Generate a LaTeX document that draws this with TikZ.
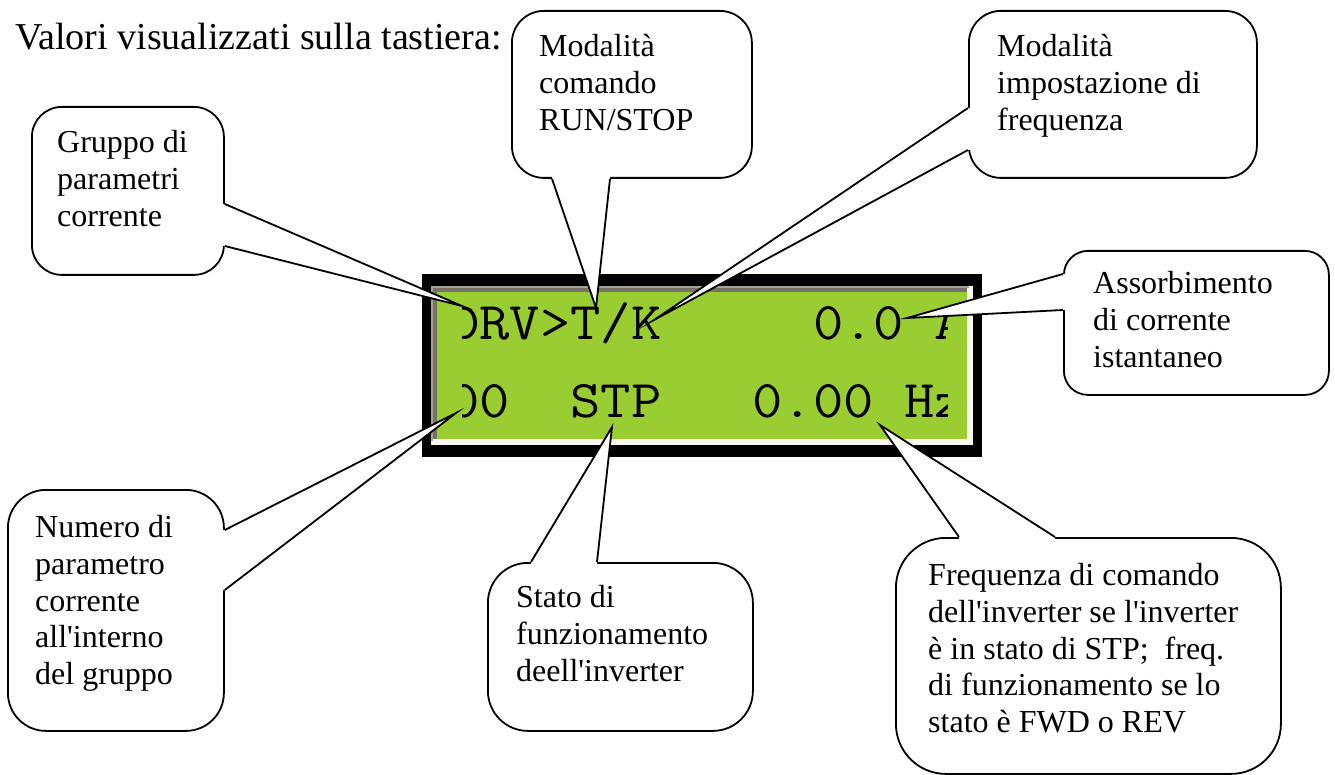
\documentclass[tikz,border=0pt]{standalone}
\usepackage{graphicx}
\usepackage{fontspec}
\setmainfont{Liberation Serif}
\usetikzlibrary{calc}
\definecolor{lcdgreen}{RGB}{154,205,50}
\definecolor{bevellight}{RGB}{168,162,148}
\definecolor{beveldark}{RGB}{120,114,102}
\definecolor{bevelwhite}{RGB}{250,248,240}
\begin{document}
\begin{tikzpicture}[x=1pt,y=-1pt,
  box/.style={draw=black, fill=white, line width=1.8pt, rectangle, inner sep=0pt, anchor=north west},
  calltext/.style={anchor=north west, inner sep=0pt, align=left, font=\fontsize{32}{36.8}\selectfont},
  wedgeline/.style={draw=black, line width=1.8pt, line join=miter, miter limit=30},
  lcdtext/.style={anchor=base west, inner sep=0pt, font=\ttfamily\fontsize{58.9}{58.9}\selectfont}]
\useasboundingbox (0,0) rectangle (1335,775);

% title
\node[anchor=base west, inner sep=0pt, font=\fontsize{38}{44}\selectfont] (title) at (15,50) {Valori visualizzati sulla tastiera:};

% LCD
\fill[black] (422,274) rectangle (982,457);
\fill[bevelwhite] (431,286) rectangle (973,445);
\fill[bevellight] (431,286) rectangle (969,288);
\fill[bevellight] (431,286) rectangle (433,441);
\fill[beveldark] (433,288) rectangle (967,292);
\fill[beveldark] (433,288) rectangle (437,439);
\fill[lcdgreen] (437,292) rectangle (967,439);
\begin{scope}
\clip (462,292) rectangle (947,439);
\node[lcdtext] (row1) at (449,340) {\scalebox{1}[0.9]{DRV>T/K~~~~~0.0~A}};
\node[lcdtext] (row2) at (449,417) {\scalebox{1}[0.9]{00~~STP~~~0.00~Hz}};
\end{scope}

% callout 1
\node[box, minimum width=192pt, minimum height=168pt, rounded corners=30pt] (b1) at (31,106) {};
\node[calltext] (c1) at (57,130) {Gruppo di\\parametri\\corrente};
\coordinate (t1) at (462,306);
\coordinate (b1a) at ($(b1.north east)+(0,98)$);
\coordinate (b1b) at ($(b1.north east)+(0,140)$);
\fill[white] (b1a) -- (t1) -- (b1b) -- ($(b1b)+(-6,0)$) -- ($(b1a)+(-6,0)$) -- cycle;
\draw[wedgeline] (b1a) -- (t1) -- (b1b);

% callout 2
\node[box, minimum width=240pt, minimum height=167pt, rounded corners=32pt] (b2) at (511,10) {};
\node[calltext] (c2) at (539,34) {Modalità\\comando\\RUN/STOP};
\coordinate (t2) at (596,308);
\coordinate (b2a) at ($(b2.south west)+(41,0)$);
\coordinate (b2b) at ($(b2.south west)+(99,0)$);
\fill[white] (b2a) -- (t2) -- (b2b) -- ($(b2b)+(0,-6)$) -- ($(b2a)+(0,-6)$) -- cycle;
\draw[wedgeline] (b2a) -- (t2) -- (b2b);

% callout 3
\node[box, minimum width=288pt, minimum height=167pt, rounded corners=32pt] (b3) at (968,10) {};
\node[calltext] (c3) at (997,34) {Modalità\\impostazione di\\frequenza};
\coordinate (t3) at (654,320);
\coordinate (b3a) at ($(b3.north west)+(0,98)$);
\coordinate (b3b) at ($(b3.north west)+(0,140)$);
\fill[white] (b3a) -- (t3) -- (b3b) -- ($(b3b)+(6,0)$) -- ($(b3a)+(6,0)$) -- cycle;
\draw[wedgeline] (b3a) -- (t3) -- (b3b);

% callout 4
\node[box, minimum width=265pt, minimum height=144pt, rounded corners=24pt] (b4) at (1063,250) {};
\node[calltext] (c4) at (1093,271) {Assorbimento\\di corrente\\istantaneo};
\coordinate (t4) at (907,318);
\coordinate (b4a) at ($(b4.north west)+(0,24)$);
\coordinate (b4b) at ($(b4.north west)+(0,60)$);
\fill[white] (b4a) -- (t4) -- (b4b) -- ($(b4b)+(6,0)$) -- ($(b4a)+(6,0)$) -- cycle;
\draw[wedgeline] (b4a) -- (t4) -- (b4b);

% callout 5
\node[box, minimum width=216pt, minimum height=241pt, rounded corners=38pt] (b5) at (7,489) {};
\node[calltext] (c5) at (35,515) {Numero di\\parametro\\corrente\\all\textquotesingle interno\\del gruppo};
\coordinate (t5) at (456,413);
\coordinate (b5a) at ($(b5.north east)+(0,41)$);
\coordinate (b5b) at ($(b5.north east)+(0,101)$);
\fill[white] (b5a) -- (t5) -- (b5b) -- ($(b5b)+(-6,0)$) -- ($(b5a)+(-6,0)$) -- cycle;
\draw[wedgeline] (b5a) -- (t5) -- (b5b);

% callout 6
\node[box, minimum width=265pt, minimum height=168pt, rounded corners=40pt] (b6) at (487,562) {};
\node[calltext] (c6) at (516,585) {Stato di\\funzionamento\\deell\textquotesingle inverter};
\coordinate (t6) at (612,427);
\coordinate (b6a) at ($(b6.north west)+(44,0)$);
\coordinate (b6b) at ($(b6.north west)+(110,0)$);
\fill[white] (b6a) -- (t6) -- (b6b) -- ($(b6b)+(0,6)$) -- ($(b6a)+(0,6)$) -- cycle;
\draw[wedgeline] (b6a) -- (t6) -- (b6b);

% callout 7
\node[box, minimum width=385pt, minimum height=236pt, rounded corners=50pt] (b7) at (895,537) {};
\node[calltext] (c7) at (928,563) {Frequenza di comando\\dell\textquotesingle inverter se l\textquotesingle inverter\\è in stato di STP;~~freq.\\di funzionamento se lo\\stato è FWD o REV};
\coordinate (t7) at (880,425);
\coordinate (b7a) at ($(b7.north west)+(64,0)$);
\coordinate (b7b) at ($(b7.north west)+(160,0)$);
\fill[white] (b7a) -- (t7) -- (b7b) -- ($(b7b)+(0,6)$) -- ($(b7a)+(0,6)$) -- cycle;
\draw[wedgeline] (b7a) -- (t7) -- (b7b);
\end{tikzpicture}
\end{document}
